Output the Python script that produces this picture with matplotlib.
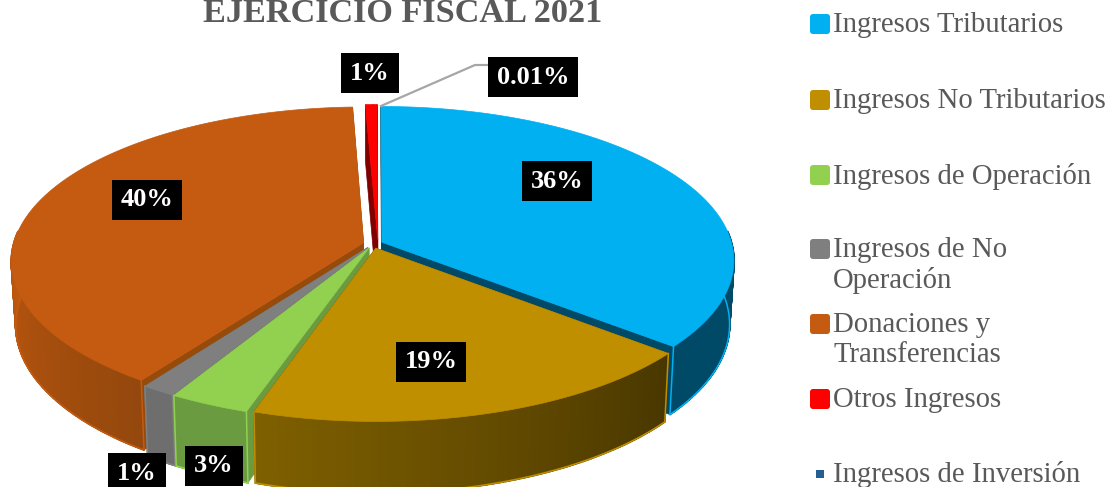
"""
Pastel 3D: ingresos del ejercicio fiscal 2021
"""

import numpy as np
import matplotlib
matplotlib.use('Agg')
import matplotlib.pyplot as plt
from matplotlib.colors import to_rgb
from matplotlib.patches import FancyBboxPatch, Polygon

# Datos
categories = ['Ingresos Tributarios', 'Ingresos No Tributarios', 'Ingresos de Operación',
              'Ingresos de No\nOperación', 'Donaciones y\nTransferencias', 'Otros Ingresos',
              'Ingresos de Inversión']
shares = [36, 19, 3.3, 1.4, 39.69, 0.6, 0.01]
value_labels = ['36%', '19%', '3%', '1%', '40%', '1%', '0.01%']

colors = ['#00B0F0', '#BF8F00', '#92D050', '#7F7F7F', '#C55A11', '#FF0000', '#255E91']
side_left = ['#004A68', '#7F6000', '#6A9B41', '#6E6E6E', '#C0580F', '#800000', '#123050']
side_right = ['#004A68', '#493700', '#6A9B41', '#6E6E6E', '#94480D', '#800000', '#123050']
wall_colors = ['#004A68', '#5A4400', '#6A9B41', '#6E6E6E', '#964B0B', '#800000', '#123050']

# Geometria en pixeles de la imagen
CX, CY = 373, 244
RX, RY = 350, 152
PERSP = 0.117
DEPTH = 63
SHRINK = 0.012
EXPLODE = 0.028
DRAW_ORDER = [6, 5, 4, 0, 3, 2, 1]
SLICE_DX = [0, 0, 0, 0, 0, 5, 0]

label_x = [557, 431, 214, 137, 147, 370, 533]
label_y = [181, 362, 466, 473, 200, 73, 77]
legend_y = [25, 101, 176, 250, 325, 400, 475]

SERIF = ['Liberation Serif', 'DejaVu Serif']
TEXT_GREY = '#595959'


def project(x, y, z=0.0):
    """Proyeccion con perspectiva de un punto del disco unitario"""
    w = 1 + PERSP * y
    return CX + RX * x * (1 - SHRINK * z) / w, CY - RY * y / w + DEPTH * z / w


def mix(c1, c2, t):
    a, b = np.array(to_rgb(c1)), np.array(to_rgb(c2))
    return tuple(a + (b - a) * t)


def draw_slice(ax, start, end, i):
    """Una porcion: paredes, lateral y tapa"""
    mid = np.radians((start + end) / 2)
    ox = EXPLODE * np.sin(mid) + SLICE_DX[i] / RX
    oy = EXPLODE * np.cos(mid)
    th = np.radians(np.linspace(start, end, max(int(end - start) * 2, 3)))
    xs = ox + np.sin(th)
    ys = oy + np.cos(th)

    # Paredes radiales
    if end - start > 0.1:
        for a in (start, end):
            t = np.radians(a)
            rim_x, rim_y = ox + np.sin(t), oy + np.cos(t)
            quad = [project(ox, oy), project(rim_x, rim_y), project(rim_x, rim_y, 1), project(ox, oy, 1)]
            ax.add_patch(Polygon(quad, closed=True, fc=wall_colors[i], ec=wall_colors[i], lw=0.5))

    # Lateral visible con degradado
    idx = np.where(np.cos(th) < 0.08)[0]
    if len(idx) > 1:
        n = len(idx) - 1
        for k in range(n):
            j0, j1 = idx[k], idx[k + 1]
            t = k / max(n - 1, 1)
            col = mix(side_right[i], side_left[i], t) if start > 180 else mix(side_left[i], side_right[i], 1 - t)
            quad = [project(xs[j0], ys[j0]), project(xs[j1], ys[j1]),
                    project(xs[j1], ys[j1], 1), project(xs[j0], ys[j0], 1)]
            ax.add_patch(Polygon(quad, closed=True, fc=col, ec=col, lw=1.3))
        # Bordes claros del lateral, solo en los cortes reales de la porcion
        px, py = project(xs[idx], ys[idx], 1)
        ax.plot(px, py, color=colors[i], lw=1.1, solid_capstyle='round')
        for j in (idx[0], idx[-1]):
            if j == 0 or j == len(th) - 1:
                p0, p1 = project(xs[j], ys[j]), project(xs[j], ys[j], 1)
                ax.plot([p0[0], p1[0]], [p0[1], p1[1]], color=colors[i], lw=1.1)

    # Tapa
    top_x, top_y = project(np.r_[ox, xs], np.r_[oy, ys])
    ax.add_patch(Polygon(np.column_stack([top_x, top_y]), closed=True,
                         fc=colors[i], ec=colors[i], lw=0.5))


def main():
    fig = plt.figure(figsize=(11.09, 4.87), dpi=100)
    ax = fig.add_axes([0, 0, 1, 1])
    ax.set_xlim(0, 1109)
    ax.set_ylim(487, 0)
    ax.axis('off')

    total = sum(shares)
    edges = np.r_[0, np.cumsum(shares)] / total * 360
    for i in DRAW_ORDER:
        draw_slice(ax, edges[i], edges[i + 1], i)

    # Titulo (cortado por el borde superior)
    ax.text(403, 22, 'EJERCICIO FISCAL 2021', family=SERIF, fontsize=24.7, fontweight='bold',
            color=TEXT_GREY, ha='center', va='baseline')

    # Linea guia de 0.01%
    ax.plot([381, 475, 490], [106, 65, 65], color='#A6A6A6', lw=1.6)

    # Etiquetas de valor
    for txt, x, y in zip(value_labels, label_x, label_y):
        ax.text(x, y, txt, family=SERIF, fontsize=19, fontweight='bold', color='white',
                ha='center', va='center',
                bbox=dict(boxstyle='square,pad=0.33', fc='black', ec='none'))

    # Leyenda
    for i, (name, y) in enumerate(zip(categories, legend_y)):
        if i == 6:
            ax.add_patch(Polygon([(816, y - 5), (824, y - 5), (824, y + 3), (816, y + 3)],
                                 closed=True, fc=colors[i], ec='none'))
        else:
            ax.add_patch(FancyBboxPatch((812, y - 9), 16, 16, boxstyle='round,pad=2,rounding_size=3',
                                        fc=colors[i], ec='none'))
        for n, line in enumerate(name.split('\n')):
            ax.text(833, y + n * 30, line, family=SERIF, fontsize=20.7, color=TEXT_GREY,
                    ha='left', va='center')

    fig.savefig('out.png', dpi=100)


if __name__ == "__main__":
    main()
